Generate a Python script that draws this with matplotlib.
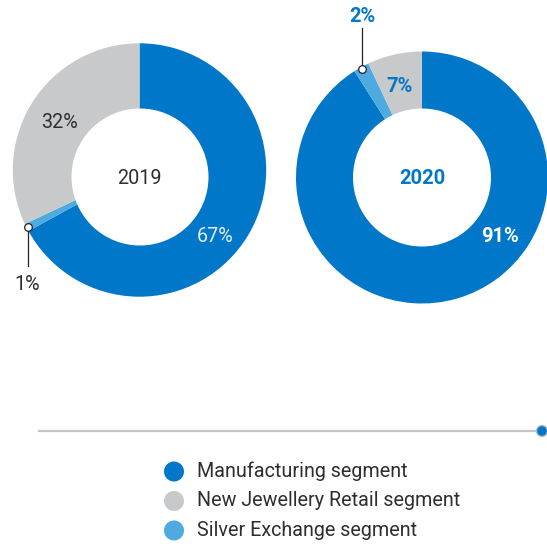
import numpy as np
import matplotlib
matplotlib.use("Agg")
import matplotlib.pyplot as plt
from matplotlib.patches import Circle

# Segment shares (%) by year; order: manufacturing, silver exchange, new jewellery retail
segments = ["Manufacturing segment", "Silver Exchange segment", "New Jewellery Retail segment"]
years = ["2019", "2020"]
shares_2019 = [67, 1, 32]
shares_2020 = [91, 2, 7]

legend_order = ["Manufacturing segment", "New Jewellery Retail segment", "Silver Exchange segment"]

BLUE = "#0077c8"
LIGHT_BLUE = "#4eaadf"
GREY = "#c8c9cb"
TEXT = "#2e2e2e"
seg_colors = {
    "Manufacturing segment": BLUE,
    "Silver Exchange segment": LIGHT_BLUE,
    "New Jewellery Retail segment": GREY,
}

W, H = 547, 549
fig = plt.figure(figsize=(W / 100, H / 100), dpi=100)
ax = fig.add_axes([0, 0, 1, 1])
ax.set_xlim(0, W)
ax.set_ylim(0, H)
ax.set_aspect("equal")
ax.set_axis_off()

FONT = "Roboto"
LIGHT = "normal"
FS = 14.2


def Y(py):
    """Convert a top-down pixel row into the axis' bottom-up coordinate."""
    return H - py


def donut(values, center, radius, hole_center, hole_radius):
    ax.pie(values, colors=[seg_colors[s] for s in segments], startangle=90,
           counterclock=False, center=(center[0], Y(center[1])), radius=radius,
           wedgeprops=dict(linewidth=0), normalize=True)
    ax.add_patch(Circle((hole_center[0], Y(hole_center[1])), hole_radius,
                        facecolor="white", edgecolor="none", zorder=3))


def wedge_mid_point(values, idx, center, r):
    total = float(sum(values))
    start = 90 - 360 * sum(values[:idx]) / total
    mid = start - 180 * values[idx] / total
    a = np.deg2rad(mid)
    return center[0] + r * np.cos(a), Y(center[1]) + r * np.sin(a)


# ---- 2019 donut ----
c19 = (139.5, 170)
donut(shares_2019, c19, 126.7, (140, 177), 68.5)
ax.text(139.5, Y(178), years[0], ha="center", va="center", fontsize=FS,
        family=FONT, weight=LIGHT, color=TEXT, zorder=5)
ax.text(60, Y(122), f"{shares_2019[2]}%", ha="center", va="center", fontsize=FS,
        family=FONT, weight=LIGHT, color=TEXT, zorder=5)
ax.text(215, Y(237), f"{shares_2019[0]}%", ha="center", va="center", fontsize=FS,
        family=FONT, weight=LIGHT, color="#e4eef8", zorder=5)
mx, my = wedge_mid_point(shares_2019, 1, c19, 125.5)
ax.plot([mx, mx], [my, Y(266)], color="#222222", lw=0.9, zorder=6)
ax.plot(mx, my, marker="o", ms=5.5, mfc="white", mec="#222222", mew=0.9, zorder=7)
ax.text(mx, Y(284), f"{shares_2019[1]}%", ha="center", va="center", fontsize=FS,
        family=FONT, weight=LIGHT, color=TEXT, zorder=5)

# ---- 2020 donut ----
c20 = (422, 177.5)
donut(shares_2020, c20, 126, (422, 177.5), 69)
ax.text(422, Y(178), years[1], ha="center", va="center", fontsize=14.5,
        family=FONT, weight="bold", color=BLUE, zorder=5)
ax.text(400, Y(86), f"{shares_2020[2]}%", ha="center", va="center", fontsize=14.5,
        family=FONT, weight="bold", color=BLUE, zorder=5)
ax.text(500, Y(237), f"{shares_2020[0]}%", ha="center", va="center", fontsize=14.5,
        family=FONT, weight="bold", color="white", zorder=5)
mx, my = wedge_mid_point(shares_2020, 1, c20, 124)
ax.plot([mx, mx], [my, Y(28)], color="#222222", lw=0.9, zorder=6)
ax.plot(mx, my, marker="o", ms=5.5, mfc="white", mec="#222222", mew=0.9, zorder=7)
ax.text(mx, Y(16), f"{shares_2020[1]}%", ha="center", va="center", fontsize=14.5,
        family=FONT, weight="bold", color=BLUE, zorder=5)

# ---- divider with end dot ----
ax.plot([38, 542], [Y(431), Y(431)], color="#c4c5c7", lw=1.6, solid_capstyle="butt", zorder=2)
ax.add_patch(Circle((542, Y(431)), 5.5, facecolor=BLUE, edgecolor="#b8babd", lw=1.0, zorder=3))

# ---- legend ----
for i, name in enumerate(legend_order):
    yy = Y(471.5 + 29.5 * i)
    ax.add_patch(Circle((174, yy), 10, facecolor=seg_colors[name], edgecolor="none", zorder=3))
    ax.text(197, yy, name, ha="left", va="center", fontsize=FS, family=FONT,
            weight=LIGHT, color=TEXT, zorder=5)

ax.set_xlim(0, W)
ax.set_ylim(0, H)
fig.savefig("out.png", dpi=100)
